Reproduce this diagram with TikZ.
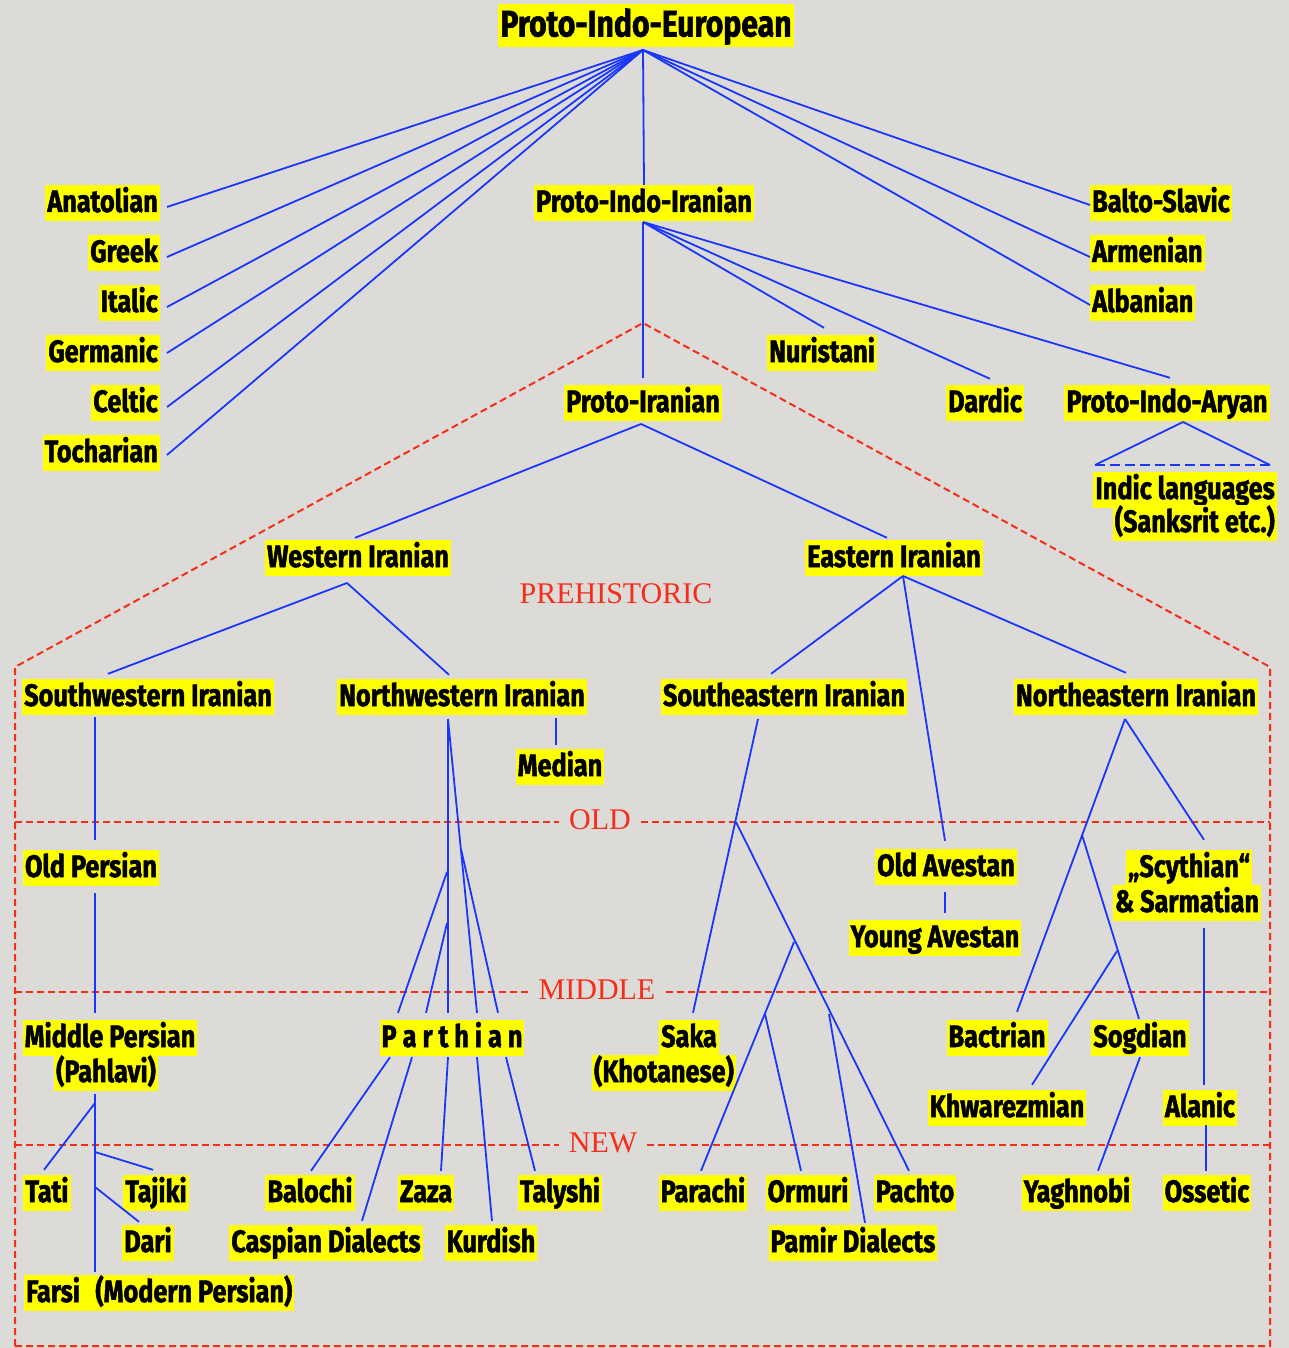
\documentclass[tikz,border=0pt]{standalone}
\usepackage{fontspec}
\newfontfamily\labfont[FakeStretch=0.815,BoldFeatures={FakeBold=1.6}]{Fira Sans}
\newfontfamily\erafont{Liberation Serif}
\definecolor{linecol}{RGB}{25,55,250}
\definecolor{eracol}{RGB}{245,45,25}
\definecolor{bgcol}{RGB}{221,219,215}
\definecolor{hilite}{RGB}{255,255,0}

\begin{document}
\begin{tikzpicture}
	[x=1pt,y=-1pt,
	lang/.style={fill=hilite,text=black,font=\labfont\bfseries\fontsize{31}{32}\selectfont,inner xsep=2pt,inner ysep=2pt,text height=25pt,text depth=7pt},
	big lang/.style={lang,font=\labfont\bfseries\fontsize{37}{38}\selectfont,inner ysep=3pt,text height=29pt,text depth=8pt},
	era/.style={text=eracol,font=\erafont\fontsize{30}{30}\selectfont,inner ysep=0pt,inner xsep=10pt},
	link/.style={draw=linecol,line width=1.8pt},
	era line/.style={draw=eracol,line width=2pt,dash pattern=on 7pt off 4pt}]
	\useasboundingbox (0,0) rectangle (1289,1348);
	\fill[bgcol] (0,0) rectangle (1289,1348);

	% top levels
	\node [big lang] (pie) at (646,26) {Proto-Indo-European};
	\node [lang,anchor=east] (anat) at (160,203) {Anatolian};
	\node [lang,anchor=east] (greek) at (160,253) {Greek};
	\node [lang,anchor=east] (italic) at (160,303) {Italic};
	\node [lang,anchor=east] (germ) at (160,353) {Germanic};
	\node [lang,anchor=east] (celtic) at (160,403) {Celtic};
	\node [lang,anchor=east] (tochar) at (160,453) {Tocharian};
	\node [lang] (pii) at (644,203) {Proto-Indo-Iranian};
	\node [lang,anchor=west] (balto) at (1090,203) {Balto-Slavic};
	\node [lang,anchor=west] (armen) at (1090,253) {Armenian};
	\node [lang,anchor=west] (alban) at (1090,303) {Albanian};
	\node [lang] (nurist) at (822,353) {Nuristani};
	\node [lang] (dardic) at (985,403) {Dardic};
	\node [lang] (pia) at (1167,403) {Proto-Indo-Aryan};
	\node [lang,anchor=east] (indic1) at (1277,490) {Indic languages};
	\node [lang,anchor=east] (indic2) at (1277,523) {(Sanksrit etc.)};
	\node [lang] (pir) at (643,403) {Proto-Iranian};
	\node [lang] (wir) at (358,558) {Western Iranian};
	\node [lang] (eir) at (894,558) {Eastern Iranian};

	% iranian branches
	\node [lang] (swir) at (148,697) {Southwestern Iranian};
	\node [lang] (nwir) at (462,697) {Northwestern Iranian};
	\node [lang] (seir) at (784,697) {Southeastern Iranian};
	\node [lang] (neir) at (1136,697) {Northeastern Iranian};
	\node [lang] (median) at (560,767) {Median};
	\node [lang] (oldpers) at (91,868) {Old Persian};
	\node [lang] (oldav) at (946,867) {Old Avestan};
	\node [lang] (youngav) at (935,938) {Young Avestan};
	\node [lang] (scyth1) at (1189,868) {„Scythian“};
	\node [lang] (scyth2) at (1187,903) {\& Sarmatian};

	% middle
	\node [lang] (midpers1) at (110,1038) {Middle Persian};
	\node [lang] (midpers2) at (106,1073) {(Pahlavi)};
	\node [lang] (parth) at (452,1038) {P a r t h i a n};
	\node [lang] (saka1) at (689,1038) {Saka};
	\node [lang] (saka2) at (664,1073) {(Khotanese)};
	\node [lang] (bactr) at (997,1038) {Bactrian};
	\node [lang] (sogd) at (1140,1038) {Sogdian};
	\node [lang] (khwar) at (1007,1108) {Khwarezmian};
	\node [lang] (alanic) at (1200,1108) {Alanic};

	% new
	\node [lang] (tati) at (47,1193) {Tati};
	\node [lang] (tajiki) at (156,1193) {Tajiki};
	\node [lang] (dari) at (148,1243) {Dari};
	\node [lang,anchor=west] (farsi) at (24,1293) {Farsi\enspace(Modern Persian)};
	\node [lang] (baloch) at (310,1193) {Balochi};
	\node [lang] (zaza) at (426,1193) {Zaza};
	\node [lang] (talysh) at (560,1193) {Talyshi};
	\node [lang] (caspian) at (326,1243) {Caspian Dialects};
	\node [lang] (kurd) at (491,1243) {Kurdish};
	\node [lang] (parachi) at (703,1193) {Parachi};
	\node [lang] (ormuri) at (808,1193) {Ormuri};
	\node [lang] (pachto) at (915,1193) {Pachto};
	\node [lang] (pamir) at (853,1243) {Pamir Dialects};
	\node [lang] (yaghn) at (1077,1193) {Yaghnobi};
	\node [lang] (osset) at (1207,1193) {Ossetic};

	% periods
	\node [era] (prehist) at (616,594) {PREHISTORIC};
	\node [era] (old) at (600,820) {OLD};
	\node [era] (mid) at (597,990) {MIDDLE};
	\node [era] (new) at (603,1143) {NEW};

	\coordinate (peak) at (643,323);
	\coordinate (roof-l) at (15,667);
	\coordinate (roof-r) at (1270,667);
	\coordinate (floor-l) at (15,1346);
	\coordinate (floor-r) at (1270,1346);
	\coordinate (old-l) at (15,822);
	\coordinate (old-r) at (1270,822);
	\coordinate (mid-l) at (15,992);
	\coordinate (mid-r) at (1270,992);
	\coordinate (new-l) at (15,1145);
	\coordinate (new-r) at (1270,1145);

	\draw[era line] (floor-l) -- (roof-l) -- (peak) -- (roof-r) -- (floor-r) -- cycle;
	\path[era line]
	(old-l) edge (old-l -| old.west)
	(old.east |- old-r) edge (old-r)
	(mid-l) edge (mid-l -| mid.west)
	(mid.east |- mid-r) edge (mid-r)
	(new-l) edge (new-l -| new.west)
	(new.east |- new-r) edge (new-r);

	% branching points
	\coordinate (pie-j) at (643,50);
	\coordinate (pii-j) at (643,222);
	\coordinate (pia-j) at (1183,422);
	\coordinate (indic-l) at (1095,465);
	\coordinate (indic-r) at (1270,465);
	\coordinate (pir-j) at (641,424);
	\coordinate (wir-j) at (347,583);
	\coordinate (eir-j) at (903,576);
	\coordinate (nwir-j) at (448,719);
	\coordinate (pa-j1) at (447,872);
	\coordinate (pa-j2) at (447,923);
	\coordinate (pa-j3) at (461,849);
	\coordinate (seir-j) at (758,719);
	\coordinate (se-j1) at (736,822);
	\coordinate (se-j2) at (794,942);
	\coordinate (se-j3) at (765,1014);
	\coordinate (se-j4) at (829,1014);
	\coordinate (neir-j) at (1125,719);
	\coordinate (ne-j1) at (1082,835);
	\coordinate (ne-j2) at (1117,951);
	\coordinate (tati-j) at (95,1103);
	\coordinate (tajiki-j) at (95,1152);
	\coordinate (dari-j) at (95,1187);

	\path[link]
	(pie-j) edge ([xshift=7pt,yshift=-4pt]anat.east)
	(pie-j) edge ([xshift=7pt,yshift=-4pt]greek.east)
	(pie-j) edge ([xshift=7pt,yshift=-4pt]italic.east)
	(pie-j) edge ([xshift=7pt,yshift=0pt]germ.east)
	(pie-j) edge ([xshift=7pt,yshift=-4pt]celtic.east)
	(pie-j) edge ([xshift=7pt,yshift=-2pt]tochar.east)
	(pie-j) edge (pii.north)
	(pie-j) edge ([yshift=-2pt]balto.west)
	(pie-j) edge ([yshift=-4pt]armen.west)
	(pie-j) edge ([yshift=-2pt]alban.west)
	(pii-j) edge ([xshift=2pt,yshift=7pt]nurist.north)
	(pii-j) edge ([xshift=5pt,yshift=6pt]dardic.north)
	(pii-j) edge ([xshift=3pt,yshift=7pt]pia.north)
	(pii-j) edge ([yshift=7pt]pir.north)
	(pia-j) edge (indic-l)
	(pia-j) edge (indic-r)
	(indic-l) edge[dash pattern=on 10pt off 5pt] (indic-r)
	(pir-j) edge ([xshift=-3pt,yshift=2pt]wir.north)
	(pir-j) edge ([xshift=-7pt,yshift=2pt]eir.north);

	\path[link]
	(wir-j) edge ([xshift=-40pt,yshift=5pt]swir.north)
	(wir-j) edge ([xshift=-13pt,yshift=4pt]nwir.north)
	([xshift=-53pt,yshift=-2pt]swir.south) edge ([xshift=4pt,yshift=10pt]oldpers.north)
	([xshift=4pt,yshift=-7pt]oldpers.south) edge ([xshift=-15pt,yshift=7pt]midpers1.north)
	([xshift=-11pt,yshift=-3pt]midpers2.south) edge ([xshift=71pt,yshift=3pt]farsi.north west)
	(tati-j) edge ([xshift=-3pt,yshift=5pt]tati.north)
	(tajiki-j) edge ([xshift=-3pt,yshift=5pt]tajiki.north)
	(dari-j) edge ([xshift=-9pt,yshift=3pt]dari.north)
	([xshift=94pt,yshift=-3pt]nwir.south) edge ([xshift=-4pt,yshift=4pt]median.north)
	(nwir-j) edge ([xshift=-4pt,yshift=7pt]parth.north)
	(nwir-j) edge ([xshift=25pt,yshift=7pt]parth.north)
	(pa-j1) edge ([xshift=-54pt,yshift=7pt]parth.north)
	(pa-j2) edge ([xshift=-26pt,yshift=7pt]parth.north)
	(pa-j3) edge ([xshift=46pt,yshift=7pt]parth.north)
	([xshift=-62pt,yshift=-1pt]parth.south) edge ([xshift=1pt,yshift=4pt]baloch.north)
	([xshift=-40pt,yshift=-1pt]parth.south) edge ([xshift=36pt,yshift=4pt]caspian.north)
	([xshift=-4pt,yshift=-1pt]parth.south) edge ([xshift=15pt,yshift=4pt]zaza.north)
	([xshift=25pt,yshift=-1pt]parth.south) edge ([xshift=1pt,yshift=4pt]kurd.north)
	([xshift=54pt,yshift=-1pt]parth.south) edge ([xshift=-25pt,yshift=4pt]talysh.north);

	\path[link]
	(eir-j) edge ([xshift=-13pt,yshift=5pt]seir.north)
	(eir-j) edge ([xshift=-10pt,yshift=6pt]neir.north)
	(eir-j) edge ([xshift=-1pt,yshift=8pt]oldav.north)
	([xshift=-1pt,yshift=-7pt]oldav.south) edge ([xshift=10pt,yshift=7pt]youngav.north)
	(seir-j) edge ([xshift=4pt,yshift=7pt]saka1.north)
	(se-j1) edge ([xshift=-6pt,yshift=4pt]pachto.north)
	(se-j2) edge ([xshift=-2pt,yshift=4pt]parachi.north)
	(se-j3) edge ([xshift=-7pt,yshift=4pt]ormuri.north)
	(se-j4) edge ([xshift=12pt,yshift=2pt]pamir.north)
	(neir-j) edge ([xshift=15pt,yshift=10pt]scyth1.north)
	(neir-j) edge ([xshift=20pt,yshift=8pt]bactr.north)
	(ne-j1) edge ([xshift=-1pt,yshift=1pt]sogd.north)
	(ne-j2) edge ([xshift=25pt,yshift=5pt]khwar.north)
	([yshift=-1pt]sogd.south) edge ([xshift=21pt,yshift=4pt]yaghn.north)
	([xshift=17pt,yshift=-7pt]scyth2.south) edge ([xshift=4pt,yshift=5pt]alanic.north)
	([xshift=6pt,yshift=1pt]alanic.south) edge ([xshift=-1pt,yshift=4pt]osset.north);

	\end{tikzpicture}
\end{document}
